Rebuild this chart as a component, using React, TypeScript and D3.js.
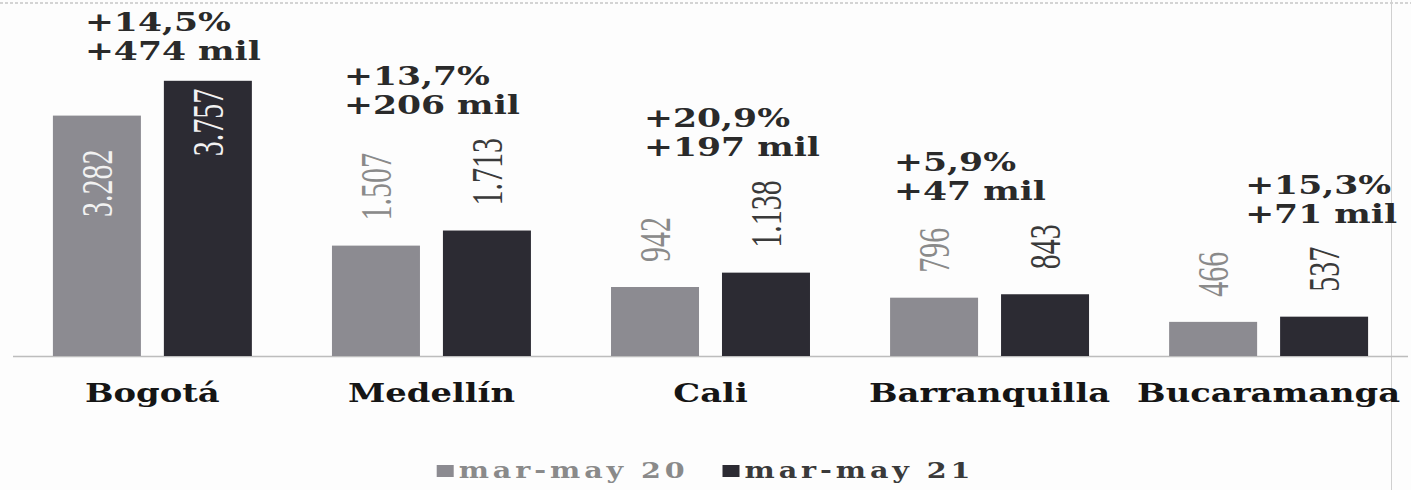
import React, { useEffect, useRef } from 'react';
import * as d3 from 'd3';

// cities and passenger counts (thousands), mar-may 2020 vs mar-may 2021
const cities = ['Bogotá', 'Medellín', 'Cali', 'Barranquilla', 'Bucaramanga'];
const series = ['mar-may 20', 'mar-may 21'];
const values2020 = [3282, 1507, 942, 796, 466];
const values2021 = [3757, 1713, 1138, 843, 537];
const valueLabels2020 = ['3.282', '1.507', '942', '796', '466'];
const valueLabels2021 = ['3.757', '1.713', '1.138', '843', '537'];
const pctChange = ['+14,5%', '+13,7%', '+20,9%', '+5,9%', '+15,3%'];
const absChange = ['+474 mil', '+206 mil', '+197 mil', '+47 mil', '+71 mil'];

const W = 1411;
const H = 490;
const STRETCH = 1.33; // scanned page is wider than tall
const colors = ['#8c8b91', '#2c2b33'];
const labelColors = ['#8a8a8a', '#3a3a3a'];
// hand-placed change notes: left edge offset from the group's left edge
const noteShift = [32, 12, 33, 4, 76];

const App = () => {
  const svgRef = useRef(null);

  useEffect(() => {
    document.body.style.margin = '0';
    const svg = d3.select(svgRef.current);
    svg.selectAll('*').remove();

    const baseY = 356;
    const x0 = d3.scaleBand()
      .domain(cities)
      .range([13, 1408])
      .paddingInner(0.287)
      .paddingOuter(0.143);
    const x1 = d3.scaleBand()
      .domain(series)
      .range([0, x0.bandwidth()])
      .paddingInner(0.207);
    const y = d3.scaleLinear().domain([0, 4000]).range([baseY, 63]);

    const serif = "'DejaVu Serif', serif";
    const times = "'Liberation Serif', 'Times New Roman', serif";

    svg.append('rect').attr('width', W).attr('height', H).attr('fill', '#fdfdfd');

    // scan edges
    svg.append('line')
      .attr('x1', 0).attr('x2', W).attr('y1', 3).attr('y2', 3)
      .attr('stroke', '#d4d4d4').attr('stroke-width', 2).attr('stroke-dasharray', '3,2');
    svg.append('line')
      .attr('x1', 1391.5).attr('x2', 1391.5).attr('y1', 0).attr('y2', H)
      .attr('stroke', '#d0d0d0').attr('stroke-width', 1);

    // axis baseline
    svg.append('line')
      .attr('x1', 13).attr('x2', 1408)
      .attr('y1', baseY + 0.5).attr('y2', baseY + 0.5)
      .attr('stroke', '#bdbdbd').attr('stroke-width', 1.5);

    const data = cities.map((c, i) => ({
      city: c,
      vals: [values2020[i], values2021[i]],
      labels: [valueLabels2020[i], valueLabels2021[i]],
      pct: pctChange[i],
      abs: absChange[i],
      i,
    }));

    const groups = svg.selectAll('.grp')
      .data(data)
      .enter()
      .append('g')
      .attr('class', 'grp')
      .attr('transform', d => `translate(${x0(d.city)},0)`);

    groups.selectAll('rect')
      .data(d => d.vals.map((v, k) => ({ v, k, s: series[k] })))
      .enter()
      .append('rect')
      .attr('x', d => x1(d.s))
      .attr('y', d => y(d.v))
      .attr('width', x1.bandwidth())
      .attr('height', d => baseY - y(d.v))
      .attr('fill', d => colors[d.k]);

    // rotated value labels, then the change notes above them
    data.forEach(d => {
      const gx = x0(d.city);
      let darkAnchor = 0;
      let inside1 = false;
      d.vals.forEach((v, k) => {
        const cx = gx + x1(series[k]) + x1.bandwidth() / 2;
        const top = y(v);
        const inside = baseY - top > 150;
        const ty = inside ? top + (k === 0 ? 34 : 8) : top - 25;
        const t = svg.append('text')
          .attr('transform', `translate(${cx},${ty}) scale(1.45,1) rotate(-90)`)
          .attr('text-anchor', inside ? 'end' : 'start')
          .attr('dy', '0.35em')
          .attr('font-family', times)
          .attr('font-size', 30)
          .attr('fill', inside ? '#f2f2f2' : labelColors[k])
          .text(d.labels[k]);
        if (k === 1) {
          const len = t.node().getComputedTextLength();
          darkAnchor = inside ? top : ty - len;
          inside1 = inside;
        }
      });

      const nx = gx + noteShift[d.i];
      const b2 = darkAnchor - (inside1 ? 21 : 24);
      [[d.pct, b2 - 29], [d.abs, b2]].forEach(([txt, by]) => {
        svg.append('text')
          .attr('transform', `translate(${nx},${by}) scale(${STRETCH},1)`)
          .attr('text-anchor', 'start')
          .attr('font-family', serif)
          .attr('font-weight', 'bold')
          .attr('font-size', 26)
          .attr('fill', '#2a2a2a')
          .text(txt as string);
      });

      svg.append('text')
        .attr('transform', `translate(${gx + x0.bandwidth() / 2},402) scale(1.3,1)`)
        .attr('text-anchor', 'middle')
        .attr('font-family', serif)
        .attr('font-weight', 'bold')
        .attr('font-size', 26)
        .attr('fill', '#151515')
        .text(d.city);
    });

    // legend, centred under the plot
    const legend = svg.append('g');
    let cursor = 0;
    series.forEach((s, k) => {
      const item = legend.append('g').attr('transform', `translate(${cursor},0)`);
      item.append('rect')
        .attr('x', 0).attr('y', -13)
        .attr('width', 17).attr('height', 12)
        .attr('fill', colors[k]);
      const t = item.append('text')
        .attr('transform', `translate(22,0) scale(1.3,1)`)
        .attr('font-family', serif)
        .attr('font-weight', 'bold')
        .attr('font-size', 22)
        .attr('letter-spacing', 3)
        .attr('fill', labelColors[k])
        .text(s);
      const len = t.node().getComputedTextLength() * 1.3;
      cursor += 22 + len + 34;
    });
    const total = cursor - 34;
    legend.attr('transform', `translate(${W / 2 - total / 2},478)`);
  }, []);

  return <svg ref={svgRef} width={W} height={H} style={{ display: 'block' }} />;
};

export default App;
